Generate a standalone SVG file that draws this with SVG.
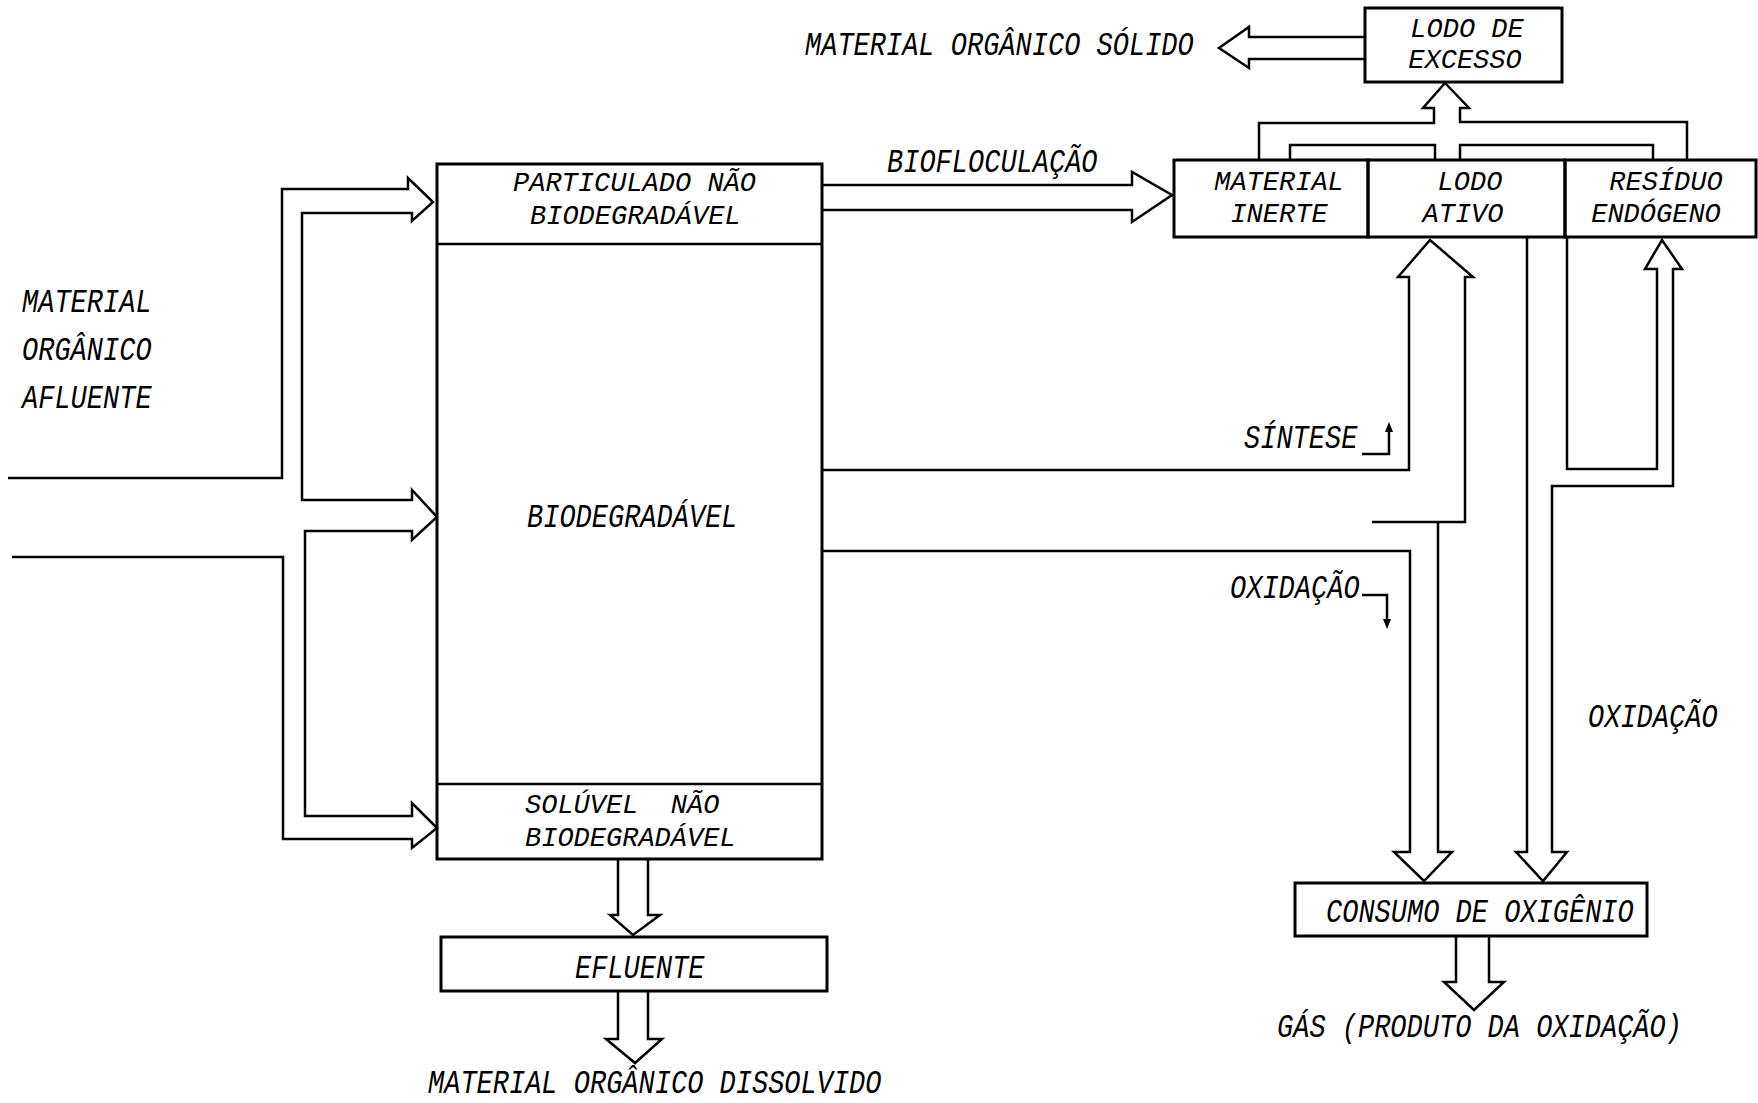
<svg xmlns="http://www.w3.org/2000/svg" width="1758" height="1103" viewBox="0 0 1758 1103">
<style>
.bg{fill:#fff}
.box{fill:none;stroke:#000;stroke-width:3}
.div{stroke:#000;stroke-width:2.5}
.c{fill:none;stroke:#000;stroke-width:2.5;stroke-linejoin:miter}
.t{font-family:"Liberation Mono","Courier New",monospace;font-style:italic;font-size:27px;fill:#000}
.m{text-anchor:middle}
</style>
<rect class="bg" x="0" y="0" width="1758" height="1103"/>
<g id="connectors">
<path class="c" d="M8,478 H282 V189 H408 V178 L433,202 L412,221 V213 H302 V500 H412 V490 L437,517 L412,540 V531 H305 V816 H412 V803 L437,828 L412,848 V839 H283 V557 H12"/>
<path class="c" d="M822,185 H1132 V172 L1172,195 L1132,222 V210 H822"/>
<path class="c" d="M618,859 V915 H610 L633,935 L660,915 H648 V859"/>
<path class="c" d="M618,991 V1039 H606 L635,1063 L662,1039 H648 V991"/>
<path class="c" d="M1365,37 H1249 V27 L1219,48 L1249,68 V59 H1365"/>
<path class="c" d="M1259,160 V123 H1434 V108 H1423 L1445,83 L1469,108 H1460 V122 H1687 V160"/>
<path class="c" d="M1290,160 V145 H1435 V160"/>
<path class="c" d="M1460,160 V145 H1653 V160"/>
<path class="c" d="M822,470 H1409 V277 H1398 L1430,240 L1473,277 H1465 V522 H1372"/>
<path class="c" d="M1438,522 V852 H1452 L1424,881 L1394,852 H1410 V551 H822"/>
<path class="c" d="M1567,237 V469 H1657 V269 H1645 L1662,240 L1682,269 H1673 V486 H1552 V852 H1567 L1543,881 L1516,852 H1527 V237"/>
<path class="c" d="M1456,936 V982 H1444 L1474,1010 L1504,982 H1489 V936"/>
<path class="c" d="M1362,454 H1389 V430"/>
<polygon points="1385,432 1389,422 1393,432" fill="#000"/>
<path class="c" d="M1362,595 H1387 V620"/>
<polygon points="1383,619 1387,629 1391,619" fill="#000"/>
</g>
<g id="afluente">
<text class="t" transform="translate(0,312) scale(1,1.2)" x="22" y="0">MATERIAL</text>
<text class="t" transform="translate(0,360) scale(1,1.2)" x="22" y="0">ORGÂNICO</text>
<text class="t" transform="translate(0,408) scale(1,1.2)" x="22" y="0">AFLUENTE</text>
</g>
<g id="reator">
<rect class="box" x="437" y="164" width="385" height="695"/>
<line class="div" x1="437" y1="244" x2="822" y2="244"/>
<line class="div" x1="437" y1="784" x2="822" y2="784"/>
<text class="t" x="513" y="191">PARTICULADO NÃO</text>
<text class="t" x="530" y="224">BIODEGRADÁVEL</text>
<text class="t" transform="translate(0,527) scale(1,1.2)" x="527" y="0">BIODEGRADÁVEL</text>
<text class="t" x="525" y="813" xml:space="preserve" style="white-space:pre">SOLÚVEL  NÃO</text>
<text class="t" x="525" y="846">BIODEGRADÁVEL</text>
</g>
<g id="efluente">
<rect class="box" x="441" y="937" width="386" height="54"/>
<text class="t" transform="translate(0,978) scale(1,1.2)" x="575" y="0">EFLUENTE</text>
</g>
<g id="dissolvido">
<text class="t" transform="translate(0,1093) scale(1,1.2)" x="428" y="0">MATERIAL ORGÂNICO DISSOLVIDO</text>
</g>
<g id="biofloculacao">
<text class="t" transform="translate(0,172) scale(1,1.2)" x="887" y="0">BIOFLOCULAÇÃO</text>
</g>
<g id="solido">
<text class="t" transform="translate(0,55) scale(1,1.2)" x="805" y="0">MATERIAL ORGÂNICO SÓLIDO</text>
</g>
<g id="lodo-excesso">
<rect class="box" x="1365" y="8" width="197" height="74"/>
<text class="t m" x="1467" y="37">LODO DE</text>
<text class="t m" x="1465" y="68">EXCESSO</text>
</g>
<g id="material-inerte">
<rect class="box" x="1174" y="160" width="194" height="77"/>
<text class="t m" x="1279" y="190">MATERIAL</text>
<text class="t m" x="1279" y="222">INERTE</text>
</g>
<g id="lodo-ativo">
<rect class="box" x="1368" y="160" width="197" height="77"/>
<text class="t m" x="1470" y="190">LODO</text>
<text class="t m" x="1463" y="222">ATIVO</text>
</g>
<g id="residuo-endogeno">
<rect class="box" x="1565" y="160" width="191" height="77"/>
<text class="t m" x="1666" y="190">RESÍDUO</text>
<text class="t m" x="1656" y="222">ENDÓGENO</text>
</g>
<g id="sintese">
<text class="t" transform="translate(0,448) scale(1,1.2)" x="1244" y="0">SÍNTESE</text>
</g>
<g id="oxidacao-1">
<text class="t" transform="translate(0,598) scale(1,1.2)" x="1230" y="0">OXIDAÇÃO</text>
</g>
<g id="oxidacao-2">
<text class="t" transform="translate(0,727) scale(1,1.2)" x="1588" y="0">OXIDAÇÃO</text>
</g>
<g id="consumo">
<rect class="box" x="1295" y="883" width="352" height="53"/>
<text class="t" transform="translate(0,922) scale(1,1.2)" x="1326" y="0">CONSUMO DE OXIGÊNIO</text>
</g>
<g id="gas">
<text class="t" transform="translate(0,1037) scale(1,1.2)" x="1277" y="0">GÁS (PRODUTO DA OXIDAÇÃO)</text>
</g>
</svg>
